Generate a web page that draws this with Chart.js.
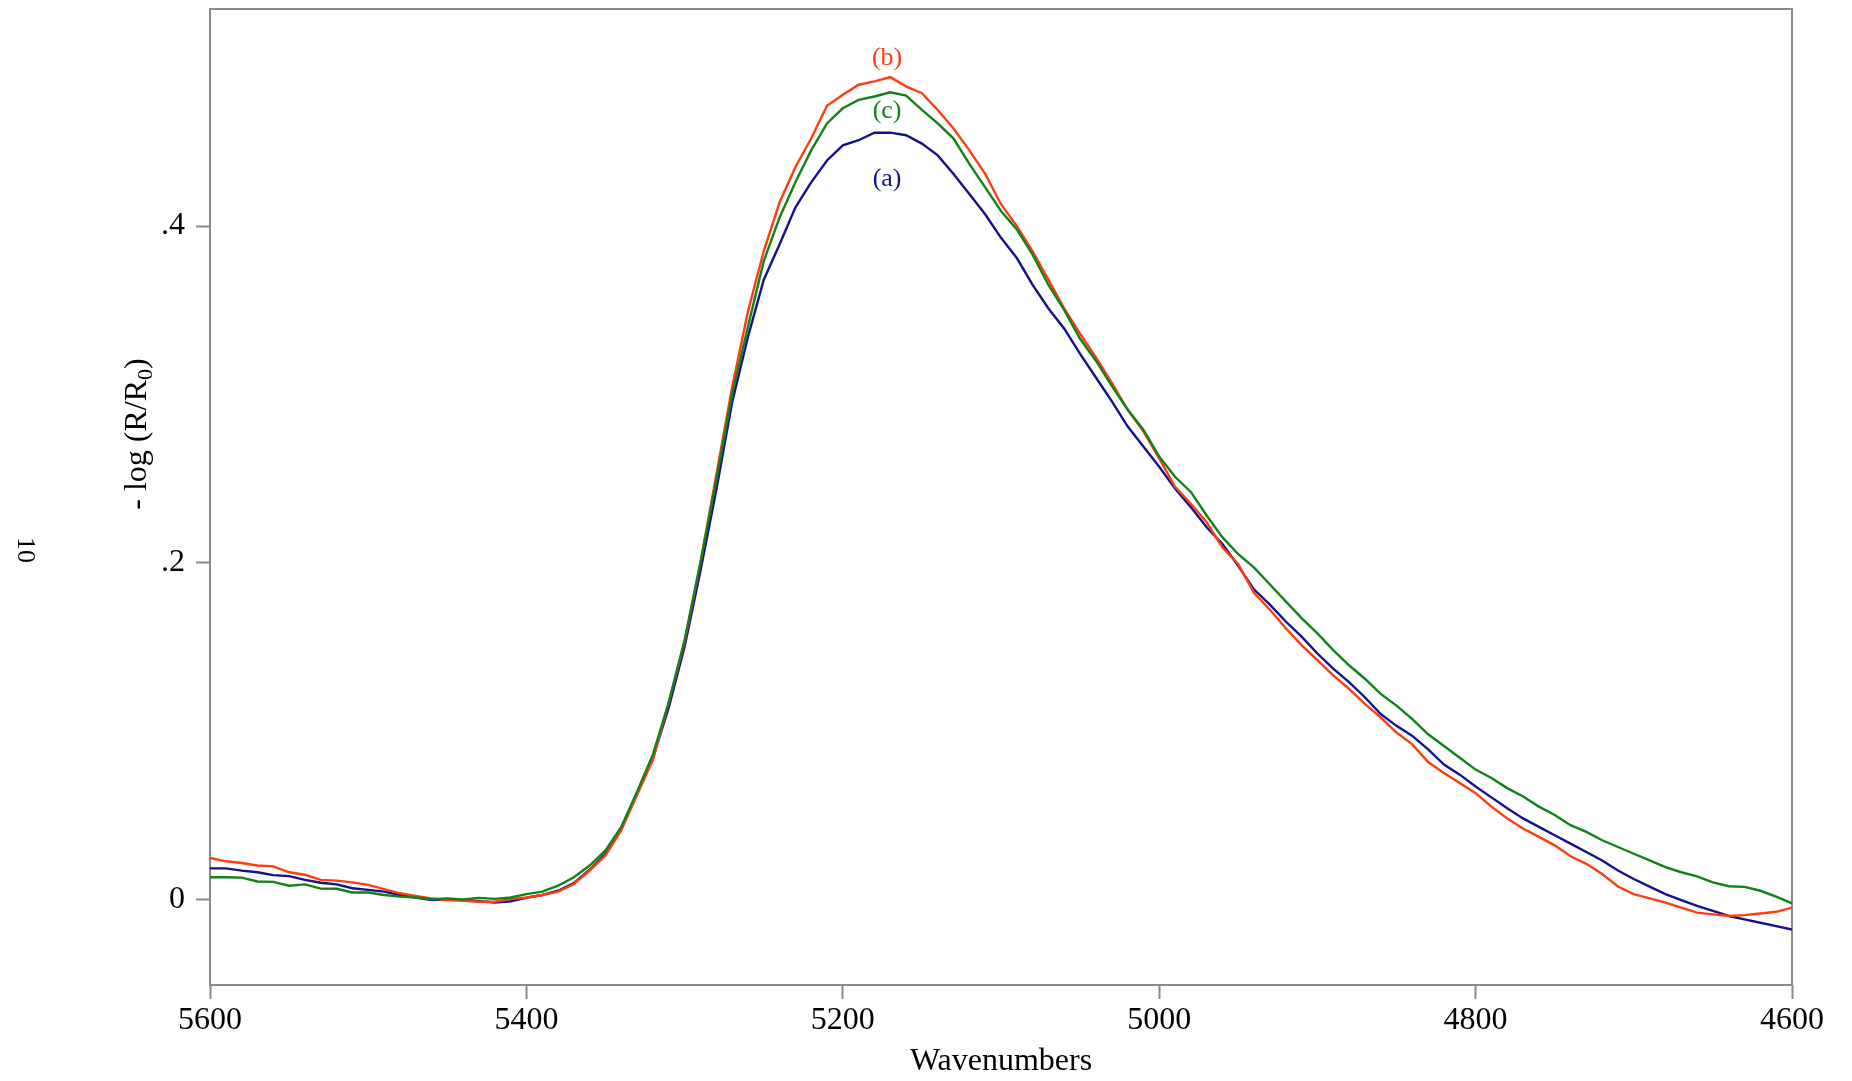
<!DOCTYPE html>
<html>
<head>
<meta charset="utf-8">
<title>-log(R/R0) vs wavenumbers</title>
<script src="https://cdn.jsdelivr.net/npm/chart.js@4.4.1/dist/chart.umd.min.js"></script>
<style>
  html, body { margin:0; padding:0; background:#fff; }
  #wrap { width:1852px; height:1081px; }
</style>
</head>
<body>
<div id="wrap"><canvas id="chart" width="1852" height="1081"></canvas></div>
<script>
const wavenumbers = [
  5600,5590,5580,5570,5560,5550,5540,5530,5520,5510,
  5500,5490,5480,5470,5460,5450,5440,5430,5420,5410,
  5400,5390,5380,5370,5360,5350,5340,5330,5320,5310,
  5300,5290,5280,5270,5260,5250,5240,5230,5220,5210,
  5200,5190,5180,5170,5160,5150,5140,5130,5120,5110,
  5100,5090,5080,5070,5060,5050,5040,5030,5020,5010,
  5000,4990,4980,4970,4960,4950,4940,4930,4920,4910,
  4900,4890,4880,4870,4860,4850,4840,4830,4820,4810,
  4800,4790,4780,4770,4760,4750,4740,4730,4720,4710,
  4700,4690,4680,4670,4660,4650,4640,4630,4620,4610,
  4600
];

// (a) blue
const seriesA = [
  0.0183,0.0183,0.0170,0.0160,0.0143,0.0137,0.0115,0.0098,0.0088,0.0065,
  0.0055,0.0045,0.0025,0.0010,-0.0005,0.0000,-0.0005,-0.0012,-0.0020,-0.0012,
  0.0008,0.0025,0.0050,0.0095,0.0175,0.0270,0.0420,0.0630,0.0840,0.1140,
  0.1500,0.1950,0.2430,0.2950,0.3340,0.3680,0.3890,0.4110,0.4260,0.4390,
  0.4480,0.4510,0.4555,0.4555,0.4540,0.4490,0.4420,0.4310,0.4190,0.4070,
  0.3930,0.3810,0.3650,0.3510,0.3390,0.3240,0.3100,0.2960,0.2810,0.2690,
  0.2570,0.2440,0.2330,0.2210,0.2110,0.1980,0.1840,0.1750,0.1650,0.1560,
  0.1460,0.1370,0.1290,0.1200,0.1100,0.1030,0.0970,0.0890,0.0800,0.0740,
  0.0670,0.0605,0.0540,0.0480,0.0430,0.0380,0.0330,0.0280,0.0230,0.0170,
  0.0120,0.0075,0.0030,-0.0005,-0.0040,-0.0070,-0.0100,-0.0120,-0.0140,-0.0160,
  -0.0180
];

// (b) red
const seriesB = [
  0.0245,0.0225,0.0215,0.0200,0.0195,0.0160,0.0145,0.0115,0.0110,0.0100,
  0.0085,0.0060,0.0035,0.0020,0.0005,-0.0005,-0.0010,-0.0015,-0.0015,0.0000,
  0.0010,0.0025,0.0045,0.0090,0.0170,0.0260,0.0410,0.0620,0.0830,0.1170,
  0.1530,0.2000,0.2520,0.3040,0.3490,0.3850,0.4140,0.4350,0.4520,0.4715,
  0.4780,0.4840,0.4860,0.4885,0.4830,0.4790,0.4690,0.4580,0.4450,0.4310,
  0.4130,0.4000,0.3850,0.3680,0.3510,0.3360,0.3220,0.3070,0.2910,0.2780,
  0.2620,0.2450,0.2350,0.2240,0.2090,0.1990,0.1820,0.1720,0.1610,0.1510,
  0.1420,0.1330,0.1250,0.1160,0.1080,0.0990,0.0920,0.0815,0.0750,0.0690,
  0.0630,0.0550,0.0480,0.0420,0.0370,0.0320,0.0255,0.0210,0.0150,0.0075,
  0.0030,0.0005,-0.0020,-0.0050,-0.0080,-0.0090,-0.0100,-0.0095,-0.0085,-0.0075,
  -0.0050
];

// (c) green
const seriesC = [
  0.0130,0.0130,0.0128,0.0105,0.0103,0.0080,0.0088,0.0063,0.0062,0.0040,
  0.0040,0.0025,0.0015,0.0010,0.0000,0.0005,-0.0002,0.0008,0.0002,0.0010,
  0.0030,0.0045,0.0080,0.0130,0.0200,0.0290,0.0430,0.0640,0.0860,0.1170,
  0.1540,0.2000,0.2490,0.3000,0.3400,0.3790,0.4050,0.4260,0.4450,0.4610,
  0.4700,0.4750,0.4770,0.4795,0.4775,0.4690,0.4610,0.4520,0.4370,0.4230,
  0.4090,0.3980,0.3830,0.3650,0.3500,0.3330,0.3200,0.3050,0.2910,0.2790,
  0.2630,0.2510,0.2420,0.2280,0.2150,0.2050,0.1970,0.1870,0.1770,0.1670,
  0.1580,0.1480,0.1390,0.1310,0.1220,0.1150,0.1070,0.0980,0.0910,0.0840,
  0.0770,0.0720,0.0660,0.0610,0.0550,0.0500,0.0440,0.0400,0.0350,0.0310,
  0.0270,0.0230,0.0190,0.0160,0.0135,0.0100,0.0077,0.0073,0.0050,0.0015,
  -0.0025
];

const xTicks = [5600, 5400, 5200, 5000, 4800, 4600];
const yTicks = [0, 0.2, 0.4];
const yTickLabels = ["0", ".2", ".4"];

// curve tags drawn next to the peak
const curveTags = [
  { text:"(b)", x:5172, y:0.4995, color:"#ff3c12" },
  { text:"(c)", x:5172, y:0.4685, color:"#11821a" },
  { text:"(a)", x:5172, y:0.4280, color:"#12128c" }
];

const SERIF = '"Liberation Serif", "Times New Roman", serif';
const frameColor = "#8a8a8a";

const decor = {
  id:"decor",
  beforeDatasetsDraw(chart) {
    const { ctx, chartArea:a } = chart;
    ctx.save();
    ctx.strokeStyle = frameColor;
    ctx.lineWidth = 2;
    ctx.strokeRect(a.left, a.top, a.right - a.left, a.bottom - a.top);
    ctx.restore();
  },
  afterDraw(chart) {
    const { ctx, scales } = chart;
    ctx.save();
    ctx.textAlign = "center";
    ctx.textBaseline = "middle";
    ctx.font = `26px ${SERIF}`;
    curveTags.forEach(t => {
      ctx.fillStyle = t.color;
      ctx.fillText(t.text, scales.x.getPixelForValue(t.x), scales.y.getPixelForValue(t.y));
    });

    // y title with subscript, rotated
    ctx.fillStyle = "#000";
    ctx.textAlign = "left";
    ctx.textBaseline = "alphabetic";
    const p1 = "- log (R/R", p2 = "0", p3 = ")";
    ctx.font = `32px ${SERIF}`;
    const w1 = ctx.measureText(p1).width, w3 = ctx.measureText(p3).width;
    ctx.font = `22px ${SERIF}`;
    const w2 = ctx.measureText(p2).width;
    const total = w1 + w2 + w3;
    ctx.save();
    ctx.translate(146, 434);
    ctx.rotate(-Math.PI / 2);
    let x0 = -total / 2;
    ctx.font = `32px ${SERIF}`;
    ctx.fillText(p1, x0, 0);
    ctx.font = `22px ${SERIF}`;
    ctx.fillText(p2, x0 + w1, 6);
    ctx.font = `32px ${SERIF}`;
    ctx.fillText(p3, x0 + w1 + w2, 0);
    ctx.restore();

    // stray "10" at far left
    ctx.save();
    ctx.translate(25, 550);
    ctx.rotate(Math.PI / 2);
    ctx.textAlign = "center";
    ctx.textBaseline = "middle";
    ctx.font = `26px ${SERIF}`;
    ctx.fillText("10", 0, 0);
    ctx.restore();
    ctx.restore();
  }
};

function mkData(vals) {
  return wavenumbers.map((w, i) => ({ x:w, y:vals[i] }));
}

const tickGrid = {
  display:true,
  drawOnChartArea:false,
  drawTicks:true,
  tickLength:14,
  tickWidth:2,
  tickColor:frameColor
};

new Chart(document.getElementById("chart"), {
  type:"line",
  data:{
    datasets:[
      { label:"(a)", data:mkData(seriesA), borderColor:"#12128c", order:2 },
      { label:"(b)", data:mkData(seriesB), borderColor:"#ff3c12", order:1 },
      { label:"(c)", data:mkData(seriesC), borderColor:"#11821a", order:0 }
    ]
  },
  options:{
    responsive:false,
    animation:false,
    layout:{ padding:{ top:9, right:60, bottom:0, left:0 } },
    elements:{
      line:{ borderWidth:2.4, tension:0, fill:false },
      point:{ radius:0 }
    },
    plugins:{ legend:{ display:false }, tooltip:{ enabled:false } },
    scales:{
      x:{
        type:"linear",
        reverse:true,
        min:4600, max:5600,
        border:{ display:false },
        grid:tickGrid,
        afterBuildTicks:s => { s.ticks = xTicks.map(v => ({ value:v })); },
        afterFit:s => { s.height = 96; s.paddingLeft = 0; s.paddingRight = 0; },
        ticks:{
          padding:2, maxRotation:0, autoSkip:false,
          color:"#000", font:{ family:SERIF, size:32 },
          callback:v => String(v)
        },
        title:{
          display:true, text:"Wavenumbers", color:"#000",
          font:{ family:SERIF, size:32 }, padding:{ top:0, bottom:0 }
        }
      },
      y:{
        min:-0.051, max:0.529,
        border:{ display:false },
        grid:tickGrid,
        afterBuildTicks:s => { s.ticks = yTicks.map(v => ({ value:v })); },
        afterFit:s => { s.width = 210; s.paddingTop = 0; s.paddingBottom = 0; },
        ticks:{
          padding:11,
          color:"#000", font:{ family:SERIF, size:32 },
          callback:v => yTickLabels[yTicks.findIndex(t => Math.abs(t - v) < 1e-9)]
        }
      }
    }
  },
  plugins:[decor]
});
</script>
</body>
</html>
